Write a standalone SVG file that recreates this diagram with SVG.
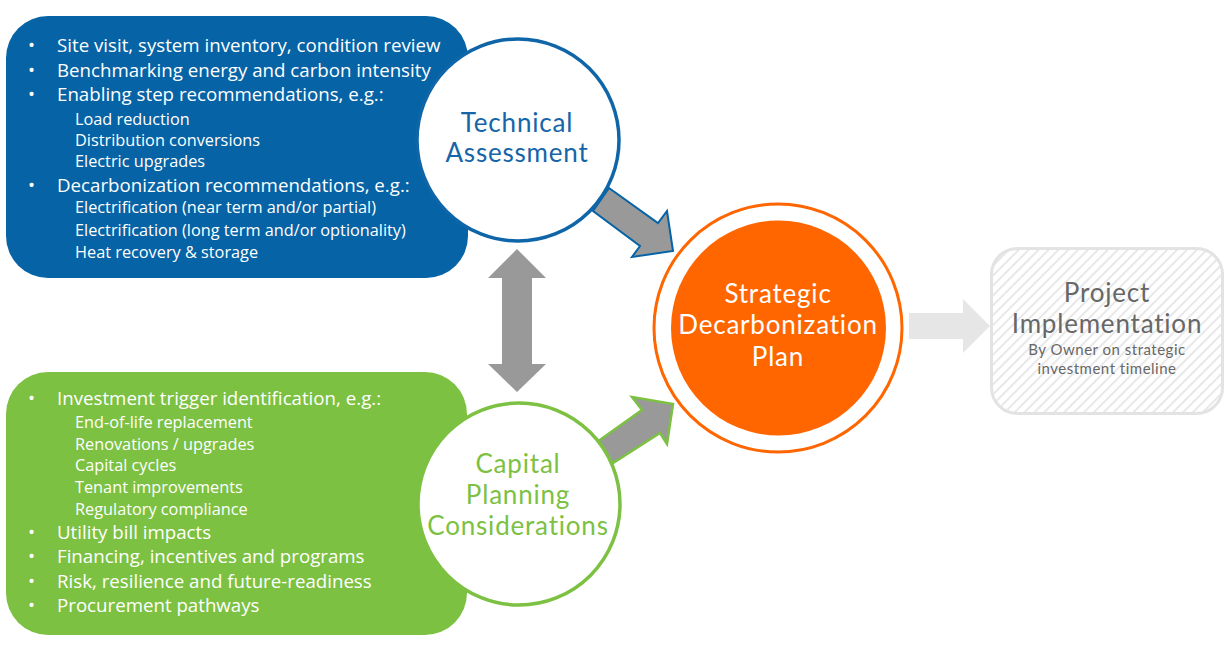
<svg xmlns="http://www.w3.org/2000/svg" width="1232" height="661" viewBox="0 0 1232 661">
<defs>
<pattern id="hatch" width="7" height="7" patternUnits="userSpaceOnUse" patternTransform="rotate(45)">
<line x1="1" y1="0" x2="1" y2="7" stroke="#e2e2e2" stroke-width="1.6"/>
</pattern>
<style>
.bul{font-family:"Open Sans","Liberation Sans",sans-serif;font-size:18.7px;fill:#ffffff}
.sub{font-family:"Open Sans","Liberation Sans",sans-serif;font-size:16.3px;fill:#ffffff}
.ttl{font-family:Lato,"Noto Sans",sans-serif;font-size:26px;text-anchor:middle;letter-spacing:0.8px}
.arr{fill:#999999}
</style>
</defs>
<rect width="1232" height="661" fill="#ffffff"/>
<g id="technical-box">
<rect x="6" y="16" width="462" height="262" rx="42" fill="#0563a6"/>
<g class="bul">
<text x="28" y="52">•</text><text x="57" y="52">Site visit, system inventory, condition review</text>
<text x="28" y="77">•</text><text x="57" y="77">Benchmarking energy and carbon intensity</text>
<text x="28" y="101">•</text><text x="57" y="101">Enabling step recommendations, e.g.:</text>
<text x="28" y="192">•</text><text x="57" y="192">Decarbonization recommendations, e.g.:</text>
</g>
<g class="sub">
<text x="75" y="125">Load reduction</text>
<text x="75" y="146">Distribution conversions</text>
<text x="75" y="167">Electric upgrades</text>
<text x="75" y="213">Electrification (near term and/or partial)</text>
<text x="75" y="236">Electrification (long term and/or optionality)</text>
<text x="75" y="258">Heat recovery &amp; storage</text>
</g>
</g>
<g id="capital-box">
<rect x="6" y="372" width="461" height="263" rx="42" fill="#7cc142"/>
<g class="bul">
<text x="28" y="405">•</text><text x="57" y="405">Investment trigger identification, e.g.:</text>
<text x="28" y="539">•</text><text x="57" y="539">Utility bill impacts</text>
<text x="28" y="563">•</text><text x="57" y="563">Financing, incentives and programs</text>
<text x="28" y="588">•</text><text x="57" y="588">Risk, resilience and future-readiness</text>
<text x="28" y="612">•</text><text x="57" y="612">Procurement pathways</text>
</g>
<g class="sub">
<text x="75" y="428">End-of-life replacement</text>
<text x="75" y="450">Renovations / upgrades</text>
<text x="75" y="471">Capital cycles</text>
<text x="75" y="493">Tenant improvements</text>
<text x="75" y="515">Regulatory compliance</text>
</g>
</g>
<g id="connectors">
<polygon class="arr" points="609,188 658,223 667,211 673,251 632,257 640,246 593,211" stroke="#0563a6" stroke-width="2" stroke-linejoin="miter"/>
<polygon class="arr" points="597,442 642,410 632,397 673,404 667,444 660,433 613,463" stroke="#7cc142" stroke-width="2.5" stroke-linejoin="miter"/>
<polygon class="arr" points="517,249 546,278 532,278 532,364 546,364 517,392 488,364 502,364 502,278 488,278"/>
<polygon points="909,313 963,313 963,299 990,326 963,353 963,339 909,339" fill="#e6e6e6"/>
</g>
<g id="technical-assessment">
<circle cx="518" cy="140" r="101" fill="#ffffff" stroke="#0e65a8" stroke-width="3.5"/>
<text class="ttl" x="517" y="132" fill="#1565a8">Technical</text>
<text class="ttl" x="517" y="162" fill="#1565a8">Assessment</text>
</g>
<g id="capital-planning">
<circle cx="519" cy="504" r="101" fill="#ffffff" stroke="#7cc142" stroke-width="3.5"/>
<text class="ttl" x="518" y="473" fill="#7cc142">Capital</text>
<text class="ttl" x="518" y="504" fill="#7cc142">Planning</text>
<text class="ttl" x="518" y="535" fill="#7cc142">Considerations</text>
</g>
<g id="strategic-plan">
<circle cx="778" cy="328" r="124" fill="#ffffff" stroke="#ff6600" stroke-width="3"/>
<circle cx="778.5" cy="328" r="107.5" fill="#ff6600"/>
<text class="ttl" x="778" y="303" fill="#ffffff">Strategic</text>
<text class="ttl" x="778" y="334" fill="#ffffff">Decarbonization</text>
<text class="ttl" x="778" y="366" fill="#ffffff">Plan</text>
</g>
<g id="project-implementation">
<rect x="991.5" y="248.5" width="231" height="165" rx="26" fill="url(#hatch)" stroke="#e3e3e3" stroke-width="3"/>
<text class="ttl" x="1107" y="302" fill="#676767" style="font-size:26px">Project</text>
<text class="ttl" x="1107" y="333" fill="#676767" style="font-size:26px">Implementation</text>
<text class="ttl" x="1107" y="355" fill="#676767" style="font-size:15px;letter-spacing:0.5px">By Owner on strategic</text>
<text class="ttl" x="1107" y="374" fill="#676767" style="font-size:15px;letter-spacing:0.5px">investment timeline</text>
</g>
</svg>
